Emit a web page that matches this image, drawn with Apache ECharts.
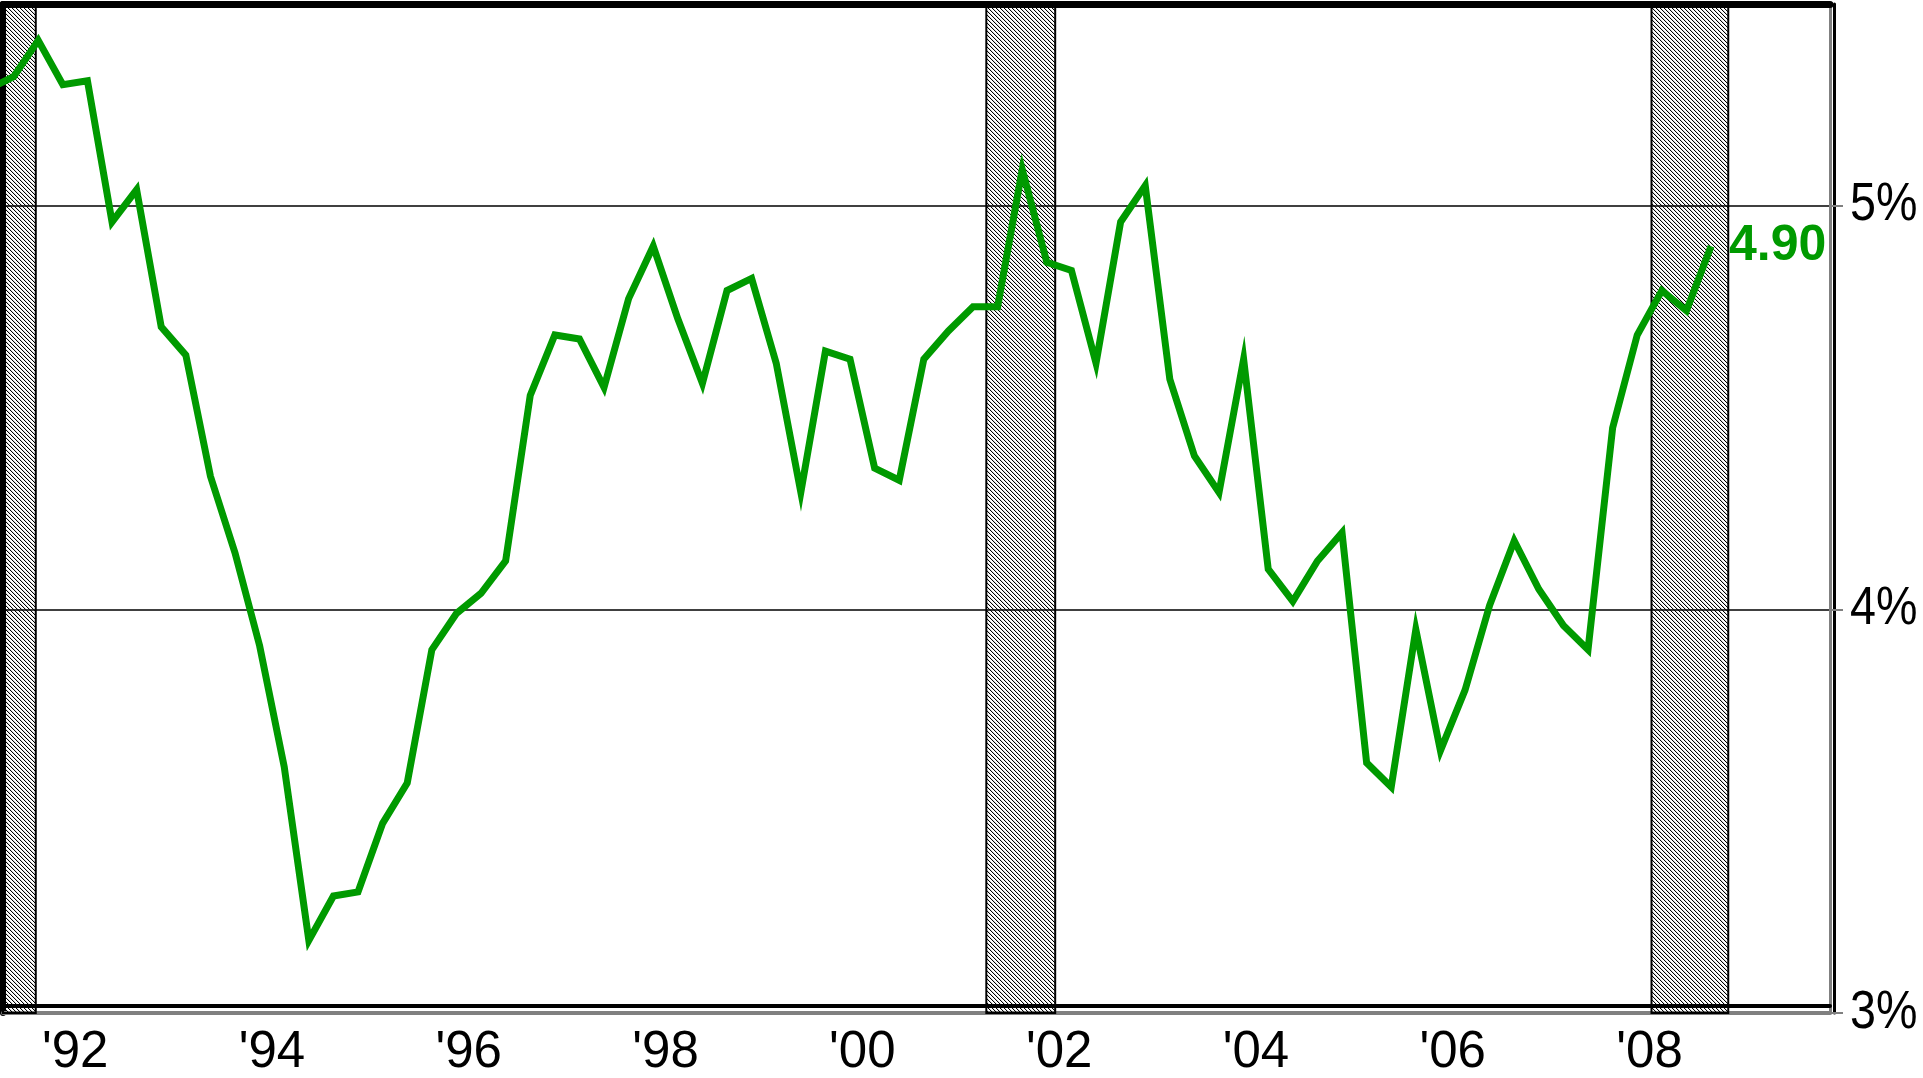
<!DOCTYPE html>
<html>
<head>
<meta charset="utf-8">
<script src="https://cdn.jsdelivr.net/npm/echarts@6/dist/echarts.min.js"></script>
<style>
  html, body { margin: 0; padding: 0; background: #fff; }
  #chart { width: 1923px; height: 1078px; }
</style>
</head>
<body>
<div id="chart"></div>
<script>
// Quarterly rate, 1991Q1 .. 2008Q3 (percent)
const firstYear = 1991;
const rateValues = [
  5.29, 5.32, 5.41, 5.30,
  5.31, 4.96, 5.04, 4.70,
  4.63, 4.33, 4.14, 3.91,
  3.61, 3.18, 3.29, 3.30,
  3.47, 3.57, 3.90, 3.99,
  4.04, 4.12, 4.53, 4.68,
  4.67, 4.55, 4.77, 4.90,
  4.72, 4.56, 4.79, 4.82,
  4.61, 4.29, 4.64, 4.62,
  4.35, 4.32, 4.62, 4.69,
  4.75, 4.75, 5.09, 4.86,
  4.84, 4.61, 4.96, 5.05,
  4.57, 4.38, 4.29, 4.62,
  4.10, 4.02, 4.12, 4.19,
  3.62, 3.56, 3.95, 3.65,
  3.80, 4.01, 4.17, 4.05,
  3.96, 3.90, 4.45, 4.68,
  4.79, 4.74, 4.90
];

// Recession periods (decimal years)
const recessions = [
  [1990.50, 1991.60],
  [2001.26, 2001.96],
  [2008.02, 2008.80]
];

// Axis labels
const yearTicks = [1992, 1994, 1996, 1998, 2000, 2002, 2004, 2006, 2008];
const pctTicks = [3, 4, 5];

// Axis ranges
const xMin = 1991.267, xMax = 2009.834;
const yMin = 3, yMax = 5.5;

// Each quarter is plotted at its midpoint
const points = rateValues.map((v, i) => {
  const year = firstYear + Math.floor(i / 4);
  const q = i % 4;
  return [year + (q + 0.5) / 4, v];
});

// Diagonal hatch fill for the recession bands
function hatchPattern() {
  const c = document.createElement('canvas');
  c.width = 4; c.height = 4;
  const ctx = c.getContext('2d');
  for (let i = 0; i < 4; i++) {
    ctx.fillStyle = '#000';
    ctx.fillRect(i, i, 1, 1);
    ctx.fillStyle = 'rgba(0,0,0,0.15)';
    ctx.fillRect((i + 1) % 4, i, 1, 1);
  }
  return c;
}

const green = '#009a00';
const chart = echarts.init(document.getElementById('chart'), null, { renderer: 'canvas' });

chart.setOption({
  animation: false,
  backgroundColor: '#fff',
  grid: { left: 3, right: 93, top: 4, bottom: 62 },
  xAxis: [
    {
      type: 'value',
      min: xMin,
      max: xMax,
      position: 'bottom',
      axisLine: {
        show: true,
        onZero: false,
        lineStyle: { color: '#808080', width: 4, shadowColor: '#000', shadowOffsetY: -7, shadowBlur: 0 }
      },
      axisTick: { show: false },
      splitLine: { show: false },
      axisLabel: {
        customValues: yearTicks,
        formatter: v => "'" + String(Math.round(v)).slice(2),
        fontFamily: 'Liberation Sans, Arial, sans-serif',
        fontSize: 51,
        color: '#000',
        margin: 14
      }
    },
    {
      type: 'value',
      min: xMin,
      max: xMax,
      position: 'top',
      axisLine: { show: true, onZero: false, lineStyle: { color: '#000', width: 7 } },
      axisTick: { show: false },
      axisLabel: { show: false },
      splitLine: { show: false }
    }
  ],
  yAxis: [
    {
      type: 'value',
      min: yMin,
      max: yMax,
      position: 'right',
      axisLine: {
        show: true,
        onZero: false,
        lineStyle: { color: '#808080', width: 3, shadowColor: '#000', shadowOffsetX: 4, shadowBlur: 0 }
      },
      axisTick: {
        show: true,
        customValues: pctTicks,
        length: 13,
        lineStyle: { color: '#808080', width: 2 }
      },
      splitLine: { show: true, lineStyle: { color: '#000', width: 1.5 } },
      // labels are drawn below as horizontally condensed text
      axisLabel: { show: false, customValues: pctTicks }
    },
    {
      type: 'value',
      min: yMin,
      max: yMax,
      position: 'left',
      axisLine: { show: true, onZero: false, lineStyle: { color: '#000', width: 6 } },
      axisTick: { show: false },
      axisLabel: { show: false },
      splitLine: { show: false }
    }
  ],
  series: [
    {
      type: 'line',
      data: points,
      xAxisIndex: 0,
      yAxisIndex: 0,
      symbol: 'none',
      clip: true,
      lineStyle: { color: green, width: 7, join: 'miter' },
      endLabel: {
        show: true,
        formatter: p => p.value[1].toFixed(2),
        color: green,
        fontFamily: 'Liberation Sans, Arial, sans-serif',
        fontWeight: 'bold',
        fontSize: 50,
        distance: 18
      },
      markArea: {
        silent: true,
        itemStyle: {
          color: { image: hatchPattern(), repeat: 'repeat' },
          borderColor: '#000',
          borderWidth: 2
        },
        data: recessions.map(r => [{ xAxis: r[0] }, { xAxis: r[1] }])
      }
    }
  ]
});

// Percent labels on the right axis, placed through the axis scale
const axisX = chart.convertToPixel({ xAxisIndex: 0 }, xMax);
chart.setOption({
  graphic: pctTicks.map(v => ({
    type: 'text',
    x: axisX + 20,
    y: chart.convertToPixel({ yAxisIndex: 0 }, v),
    scaleX: 0.88,
    silent: true,
    style: {
      text: v + '%',
      fontFamily: 'Liberation Sans, Arial, sans-serif',
      fontSize: 53,
      fill: '#000',
      align: 'left',
      verticalAlign: 'middle'
    }
  }))
});
</script>
</body>
</html>
